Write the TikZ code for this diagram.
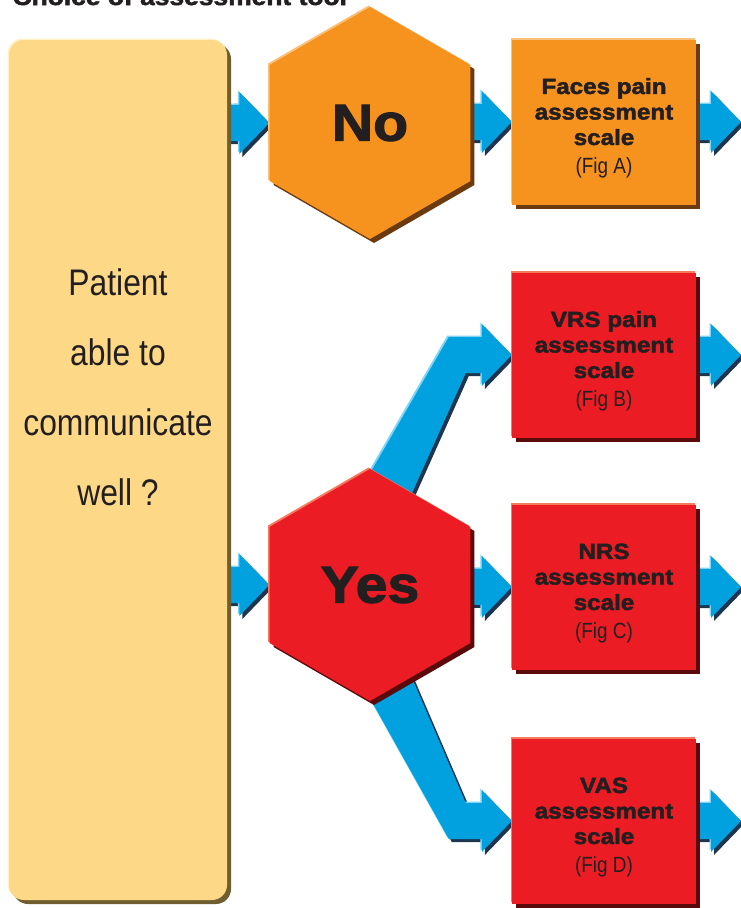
\documentclass[tikz,border=0pt]{standalone}
\usepackage{fontspec}
\setmainfont{Liberation Sans}
\newfontfamily\heavyfont[UprightFont=* Bold, FakeBold=2.2, FakeStretch=1.1]{Liberation Sans}
\newfontfamily\condfont[FakeStretch=0.86]{Liberation Sans}
\usetikzlibrary{shapes.geometric,shadows,calc}
\pgfdeclarelayer{background}
\pgfsetlayers{background,main}

\definecolor{ink}{HTML}{231F20}
\definecolor{askfill}{HTML}{FDD886}
\definecolor{askshade}{HTML}{6E5E30}
\definecolor{asklight}{HTML}{FFF0C8}
\definecolor{nofill}{HTML}{F6921E}
\definecolor{noshade}{HTML}{6B3A10}
\definecolor{nolight}{HTML}{FBC07A}
\definecolor{yesfill}{HTML}{EC1C24}
\definecolor{yesshade}{HTML}{5A0A0A}
\definecolor{yeslight}{HTML}{F47A60}
\definecolor{arrowfill}{HTML}{00A1DE}
\definecolor{arrowshade}{HTML}{1E3550}
\definecolor{arrowlight}{HTML}{80D4F4}

\tikzset{
    question/.style={rectangle, rounded corners=15pt, fill=askfill, minimum width=218pt, minimum height=860pt,
        general shadow={fill=askshade, shadow xshift=4pt, shadow yshift=-4pt},
        general shadow={fill=asklight, shadow xshift=-1.5pt, shadow yshift=1.5pt}},
    hexa/.style={regular polygon, regular polygon sides=6, shape border rotate=30, minimum size=232pt, inner sep=0pt,
        fill=#1fill, text=ink, font=\heavyfont\fontsize{52}{52}\selectfont,
        general shadow={fill=#1shade, shadow xshift=4pt, shadow yshift=-4pt},
        general shadow={fill=#1light, shadow xshift=-1.5pt, shadow yshift=1.5pt}},
    scalebox/.style={rectangle, minimum width=184pt, minimum height=165pt, inner sep=0pt, align=center,
        fill=#1fill, text=ink, font=\heavyfont\fontsize{22}{25.5}\selectfont,
        general shadow={fill=#1shade, shadow xshift=4pt, shadow yshift=-4pt},
        general shadow={fill=#1light, shadow xshift=-1.5pt, shadow yshift=1.5pt}}
}
% figure reference under each scale name
\newcommand{\figref}[1]{{\condfont\fontsize{22}{25}\selectfont (Fig #1)}}

% straight blue block arrow, from #1 to tip #2
\newcommand{\flatarrow}[2]{
    \foreach \dx/\dy/\col in {3/-3/arrowshade, -1.5/1.5/arrowlight, 0/0/arrowfill}
        \fill[\col, transform canvas={xshift=\dx pt, yshift=\dy pt}]
            ($(#1)+(0,-18)$) -- ($(#2)+(-30,-18)$) -- ($(#2)+(-30,-31)$) -- (#2)
            -- ($(#2)+(-30,31)$) -- ($(#2)+(-30,18)$) -- ($(#1)+(0,18)$) -- cycle;
}
% bent blue block arrow, out of hexagon #1 to tip #2, #3 = -1 up / 1 down
\newcommand{\bentarrow}[3]{
    \foreach \dx/\dy/\col in {3/-3/arrowshade, -1.5/1.5/arrowlight, 0/0/arrowfill}
        \fill[\col, transform canvas={xshift=\dx pt, yshift=\dy pt}]
            ($(#1)+(-27,{65*(#3)})$) -- ($(#2)+(-63,{18*(#3)})$) -- ($(#2)+(-30,{18*(#3)})$)
            -- ($(#2)+(-30,{31*(#3)})$) -- (#2) -- ($(#2)+(-30,{-31*(#3)})$)
            -- ($(#2)+(-30,{-18*(#3)})$) -- ($(#2)+(-46,{-18*(#3)})$) -- ($(#1)+(30,{65*(#3)})$) -- cycle;
}

\begin{document}
\begin{tikzpicture}[x=1pt, y=-1pt]
    \useasboundingbox (0,0) rectangle (741,908);

    \node[anchor=base west, text=ink, font=\heavyfont\fontsize{24}{24}\selectfont] (title) at (9,5) {Choice of assessment tool};

    \node[question] (ask) at (118,470) {};
    \node[align=center, text=ink, font=\condfont\fontsize{37}{70}\selectfont] (asktext) at (118,387) {Patient\\able to\\communicate\\well ?};

    \node[hexa=no] (no) at (370,123) {No};
    \node[hexa=yes] (yes) at (370,585) {Yes};

    \node[scalebox=no] (faces) at (604,122) {\rule{0pt}{28pt}Faces pain\\assessment\\scale\\[3pt]\figref{A}};
    \node[scalebox=yes] (vrs) at (604,355) {\rule{0pt}{28pt}VRS pain\\assessment\\scale\\[3pt]\figref{B}};
    \node[scalebox=yes] (nrs) at (604,587) {\rule{0pt}{28pt}NRS\\assessment\\scale\\[3pt]\figref{C}};
    \node[scalebox=yes] (vas) at (604,821) {\rule{0pt}{28pt}VAS\\assessment\\scale\\[3pt]\figref{D}};

    \coordinate (outA) at (741,122);
    \coordinate (outB) at (741,355);
    \coordinate (outC) at (741,587);
    \coordinate (outD) at (741,821);

    \begin{pgfonlayer}{background}
        \flatarrow{ask.center |- no}{no.west}
        \flatarrow{ask.center |- yes}{yes.west}
        \flatarrow{no.center}{faces.west}
        \flatarrow{yes.center}{nrs.west}
        \bentarrow{yes.center}{vrs.west}{-1}
        \bentarrow{yes.center}{vas.west}{1}
        \flatarrow{faces.center}{outA}
        \flatarrow{vrs.center}{outB}
        \flatarrow{nrs.center}{outC}
        \flatarrow{vas.center}{outD}
    \end{pgfonlayer}
\end{tikzpicture}
\end{document}
